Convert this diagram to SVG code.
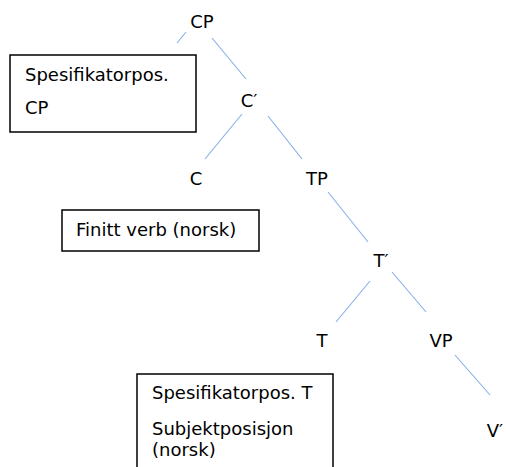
<svg xmlns="http://www.w3.org/2000/svg" width="506" height="467" viewBox="0 0 506 467">
<style>
text{font-family:"DejaVu Sans",Verdana,sans-serif;font-size:18px;fill:#000}
.box{fill:#fff;stroke:#000;stroke-width:1.5}
.c{text-anchor:middle}
#edges line{stroke:#86aee6;stroke-width:1.1}
</style>
<rect width="506" height="467" fill="#fff"/>
<g id="edges">
<line x1="186" y1="32" x2="177" y2="43"/>
<line x1="212" y1="38" x2="246" y2="79"/>
<line x1="242" y1="114" x2="205" y2="159"/>
<line x1="268" y1="116" x2="302" y2="159"/>
<line x1="328" y1="192" x2="368" y2="242"/>
<line x1="370" y1="281" x2="336" y2="322"/>
<line x1="392" y1="272" x2="426" y2="312"/>
<line x1="455" y1="355" x2="490" y2="395"/>
</g>
<g id="CP"><text class="c" x="202" y="28">CP</text></g>
<g id="spec-CP"><rect class="box" x="10" y="55" width="186" height="77"/><text x="25" y="81">Spesifikatorpos.</text><text x="25" y="114">CP</text></g>
<g id="Cbar"><text class="c" x="249" y="107">C′</text></g>
<g id="C"><text class="c" x="196" y="185">C</text></g>
<g id="TP"><text class="c" x="317" y="185">TP</text></g>
<g id="finitt"><rect class="box" x="62" y="210" width="197" height="41"/><text x="76" y="236">Finitt verb (norsk)</text></g>
<g id="Tbar"><text class="c" x="381" y="267">T′</text></g>
<g id="T"><text class="c" x="322" y="347">T</text></g>
<g id="VP"><text class="c" x="441" y="347">VP</text></g>
<g id="Vbar"><text class="c" x="495" y="437">V′</text></g>
<g id="spec-T"><rect class="box" x="137" y="374" width="196" height="100"/><text x="152" y="399">Spesifikatorpos. T</text><text x="152" y="435">Subjektposisjon</text><text x="152" y="456">(norsk)</text></g>
</svg>
